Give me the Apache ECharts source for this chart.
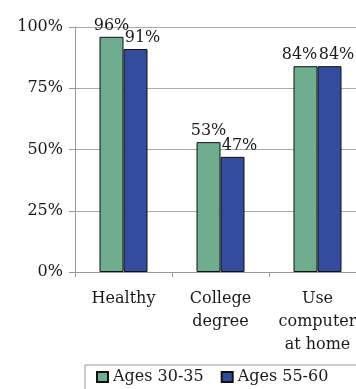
<!DOCTYPE html>
<html>
<head>
<meta charset="utf-8">
<script src="https://cdn.jsdelivr.net/npm/echarts@6/dist/echarts.min.js"></script>
<style>
  html, body { margin: 0; padding: 0; background: #fff; }
  #chart { width: 356px; height: 389px; }
</style>
</head>
<body>
<div id="chart"></div>
<script>
// data
const categories = ['Healthy', 'College\ndegree', 'Use\ncomputer\nat home'];
const seriesNames = ['Ages 30-35', 'Ages 55-60'];
const young = [96, 53, 84];
const old = [91, 47, 84];
const yTicks = [0, 25, 50, 75, 100];

const font = '"DejaVu Serif", serif';

const chart = echarts.init(document.getElementById('chart'));

function barLabel(offsetX) {
  return {
    show: true,
    position: 'top',
    distance: 3,
    offset: [offsetX, 0],
    formatter: '{c}%',
    color: '#1a1a1a',
    fontFamily: font,
    fontSize: 16
  };
}

// when both labels sit at the same height, nudge the left one so they don't collide
const youngData = young.map((v, i) => v === old[i] ? { value: v, label: { offset: [-6, 0] } } : v);

const option = {
  animation: false,
  grid: {
    left: 75,
    top: 27,
    width: 291,
    height: 245,
    outerBoundsMode: 'none'
  },
  xAxis: {
    type: 'category',
    data: categories,
    axisLine: { lineStyle: { color: '#999', width: 1 } },
    axisTick: { show: true, length: 5, lineStyle: { color: '#999' } },
    axisLabel: {
      interval: 0,
      hideOverlap: false,
      color: '#1a1a1a',
      fontFamily: font,
      fontSize: 16,
      lineHeight: 23,
      margin: 15
    }
  },
  yAxis: {
    type: 'value',
    min: 0,
    max: 100,
    interval: 25,
    axisLine: { show: true, lineStyle: { color: '#999', width: 1 } },
    axisTick: { show: true, length: 6, lineStyle: { color: '#999' } },
    splitLine: { lineStyle: { color: '#aaa', width: 1 } },
    axisLabel: {
      color: '#1a1a1a',
      fontFamily: font,
      fontSize: 16,
      margin: 12,
      formatter: v => yTicks.includes(v) ? v + '%' : ''
    }
  },
  legend: {
    data: seriesNames,
    orient: 'horizontal',
    left: 85,
    top: 365,
    width: 330,
    icon: 'rect',
    itemWidth: 11,
    itemHeight: 10,
    itemGap: 17,
    borderColor: '#999',
    borderWidth: 1,
    padding: [4, 30, 8, 11],
    textStyle: {
      color: '#1a1a1a',
      fontFamily: font,
      fontSize: 16
    }
  },
  series: [
    {
      name: seriesNames[0],
      type: 'bar',
      data: youngData,
      barWidth: 24,
      barGap: '0%',
      itemStyle: { color: '#6fad8f', borderColor: '#111', borderWidth: 1 },
      label: barLabel(0)
    },
    {
      name: seriesNames[1],
      type: 'bar',
      data: old,
      barWidth: 24,
      barGap: '0%',
      itemStyle: { color: '#334c9e', borderColor: '#111', borderWidth: 1 },
      label: barLabel(7)
    }
  ]
};
chart.setOption(option);
window.addEventListener('resize', function () {
  chart.resize();
});
</script>
</body>
</html>
